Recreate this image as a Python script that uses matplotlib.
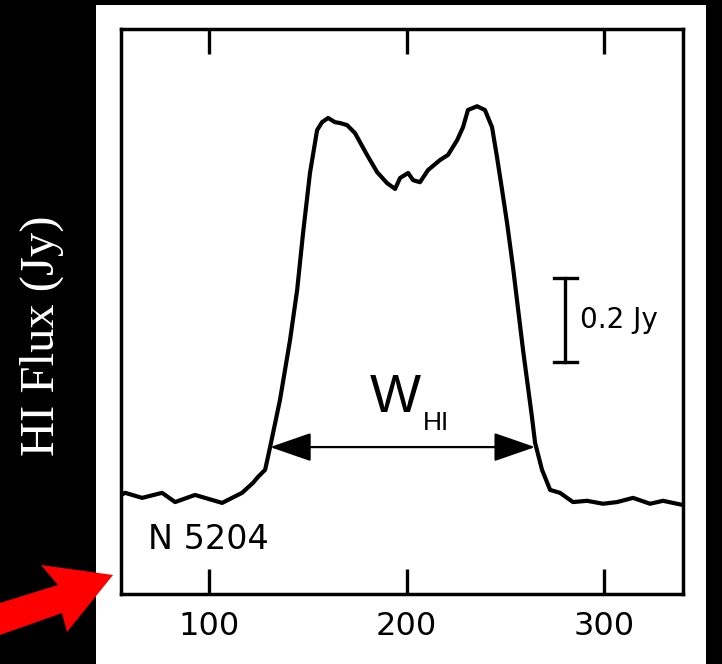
import matplotlib.pyplot as plt
from matplotlib.patches import Rectangle, Polygon, FancyArrowPatch

# HI line profile of NGC 5204 (velocity in km/s, flux density in Jy)
velocity = [55.4, 57.5, 66.1, 76.2, 82.8, 92.9, 106.6, 116.7, 122.3, 124.8,
            128.4, 130.9, 135.9, 141.0, 144.6, 147.6, 151.1, 154.7, 157.2, 160.3,
            163.8, 166.3, 169.9, 173.9, 180.0, 185.1, 190.1, 194.2, 196.7, 200.8,
            203.3, 206.8, 210.9, 217.0, 221.0, 225.6, 228.6, 231.1, 235.7, 239.7,
            243.3, 245.8, 248.4, 250.9, 253.9, 259.0, 263.5, 265.1, 268.6, 272.7,
            277.7, 284.3, 291.4, 299.5, 306.6, 314.7, 323.3, 329.9, 340.0]
flux = [0.007, 0.012, 0.000, 0.012, -0.010, 0.007, -0.012, 0.012, 0.036, 0.050,
        0.067, 0.121, 0.233, 0.376, 0.495, 0.631, 0.774, 0.876, 0.895, 0.905,
        0.895, 0.893, 0.888, 0.869, 0.817, 0.776, 0.750, 0.736, 0.762, 0.774,
        0.757, 0.752, 0.781, 0.805, 0.817, 0.852, 0.883, 0.924, 0.933, 0.924,
        0.883, 0.812, 0.733, 0.655, 0.550, 0.352, 0.193, 0.131, 0.067, 0.019,
        0.012, -0.010, -0.007, -0.014, -0.010, 0.000, -0.014, -0.007, -0.017]

xticks = [100, 200, 300]
width_edges = [130.9, 265.1]   # W_HI measured at this level
width_level = 0.121
scale_bar = [0.324, 0.524]     # 0.2 Jy
scale_bar_v = 280.3

fig = plt.figure(figsize=(7.22, 6.64), dpi=100, facecolor="black")

# white page behind the plot
page = Rectangle((96 / 722, 0), 610 / 722, 659 / 664, transform=fig.transFigure,
                 facecolor="white", edgecolor="none", zorder=-1)
fig.add_artist(page)

ax = fig.add_axes([121 / 722, 1 - 594 / 664, 562 / 722, 565 / 664])
ax.set_zorder(1)
ax.set_facecolor("white")
ax.plot(velocity, flux, color="black", lw=3.0, solid_joinstyle="round",
        solid_capstyle="round")

ax.set_xlim(55.4, 340)
ax.set_ylim(-0.229, 1.117)
ax.set_xticks(xticks)
ax.set_yticks([])
ax.tick_params(axis="x", direction="in", length=18, width=2.4, top=True,
               labelsize=23, pad=12)
for lab in ax.get_xticklabels():
    lab.set_fontfamily("DejaVu Sans")
for s in ax.spines.values():
    s.set_linewidth(2.5)

# width arrow
arr = FancyArrowPatch((width_edges[0], width_level), (width_edges[1], width_level),
                      arrowstyle="<|-|>,head_length=26,head_width=9",
                      mutation_scale=1, color="black", lw=1.6,
                      shrinkA=0, shrinkB=0)
ax.add_patch(arr)
ax.text(181.5, 0.205, "W", fontsize=39, family="Liberation Sans",
        ha="left", va="baseline")
ax.text(208.4, 0.162, "HI", fontsize=19, family="Liberation Sans",
        ha="left", va="baseline")

# 0.2 Jy scale bar
ax.plot([scale_bar_v, scale_bar_v], scale_bar, color="black", lw=2.4)
for yb in scale_bar:
    ax.plot([scale_bar_v - 5.8, scale_bar_v + 5.8], [yb, yb], color="black", lw=2.4)
ax.text(287.8, sum(scale_bar) / 2, "0.2 Jy", fontsize=20, family="DejaVu Sans",
        ha="left", va="center")

ax.text(69.0, -0.1, "N 5204", fontsize=24, family="DejaVu Sans",
        ha="left", va="center")

fig.text(42 / 722, 1 - 336 / 664, "HI Flux (Jy)", rotation=90, color="white",
         fontsize=35, family="Liberation Serif", ha="center", va="center")

# red pointer arrow at the lower left corner
pts = [(0, 603), (58, 585), (41, 565), (113, 575), (67, 632), (62, 613), (0, 635)]
pointer = Polygon([(x / 722, 1 - y / 664) for x, y in pts], closed=True,
                  transform=fig.transFigure, facecolor="#ff0000",
                  edgecolor="none", zorder=5)
fig.add_artist(pointer)

fig.savefig("out.png", dpi=100, facecolor="black")
